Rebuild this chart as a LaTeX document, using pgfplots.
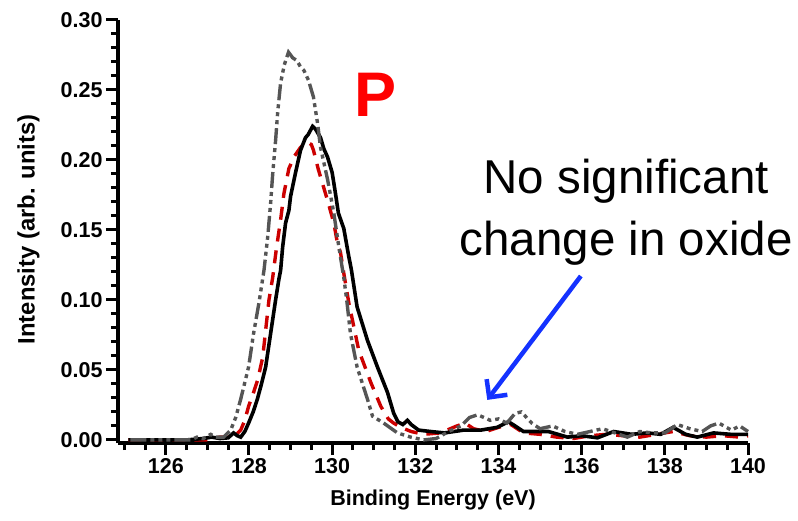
\documentclass[border=0pt]{standalone}
\usepackage{fontspec}
\setmainfont{Liberation Sans}
\usepackage{pgfplots}
\pgfplotsset{compat=1.18}
\usetikzlibrary{arrows.meta}
\definecolor{dgrey}{RGB}{85,85,85}
\definecolor{dred}{RGB}{204,0,0}
\definecolor{ablue}{RGB}{20,50,255}
\begin{document}
\begin{tikzpicture}
\begin{axis}[
  scale only axis, width=630pt, height=423pt,
  xmin=124.85, xmax=140, ymin=-0.0022, ymax=0.30,
  axis x line*=bottom, axis y line*=left,
  axis line style={line width=3.5pt},
  tick align=outside,
  xtick={126,128,130,132,134,136,138,140},
  minor xtick={125,125.5,126.5,127,127.5,128.5,129,129.5,130.5,131,131.5,132.5,133,133.5,134.5,135,135.5,136.5,137,137.5,138.5,139,139.5},
  ytick={0,0.05,0.10,0.15,0.20,0.25,0.30},
  minor ytick={0.01,0.02,0.03,0.04,0.06,0.07,0.08,0.09,0.11,0.12,0.13,0.14,0.16,0.17,0.18,0.19,0.21,0.22,0.23,0.24,0.26,0.27,0.28,0.29},
  major tick length=12pt, minor tick length=7pt,
  every tick/.style={line width=3pt, black},
  ticklabel style={font=\fontsize{21.5}{25}\selectfont\bfseries},
  /pgf/number format/assume math mode=true,
  yticklabel style={/pgf/number format/.cd, fixed, fixed zerofill, precision=2},
  xticklabel style={/pgf/number format/.cd, fixed},
  xlabel={Binding Energy (eV)},
  ylabel={Intensity (arb. units)},
  xlabel style={font=\fontsize{21.5}{25}\selectfont\bfseries, at={(axis description cs:0.5,-0.1466)}, anchor=base},
  ylabel style={font=\fontsize{23.8}{27}\selectfont\bfseries, at={(axis description cs:-0.1420,0.505)}, anchor=center},
  clip=false,
]
\coordinate (sw) at (rel axis cs:0,0);
\addplot[dred, line width=3.4pt, dash pattern=on 13pt off 9pt] coordinates {
(125.1,0) (127.0,0.000) (127.3,0.002) (127.56,0.002) (127.7,0.004) (127.8,0.007)
(127.9,0.014) (127.99,0.024) (128.1,0.033) (128.21,0.043) (128.33,0.059) (128.48,0.100)
(128.57,0.116) (128.66,0.137) (128.76,0.157) (128.84,0.176) (128.96,0.194) (129.1,0.203)
(129.24,0.209) (129.4,0.213) (129.5,0.211) (129.55,0.207) (129.67,0.193) (129.78,0.182)
(129.89,0.171) (130.04,0.155) (130.13,0.140) (130.2,0.134) (130.28,0.119) (130.4,0.098)
(130.64,0.064) (130.93,0.041) (131.17,0.024) (131.35,0.015) (131.48,0.012) (131.65,0.009)
(131.9,0.006) (132.2,0.004) (132.6,0.005) (133.0,0.010) (133.2,0.012) (133.4,0.008)
(133.7,0.006) (134.0,0.009) (134.3,0.011) (134.6,0.005) (135.0,0.004) (135.4,0.002)
(135.8,0.001) (136.2,0.003) (136.6,0.004) (137.0,0.003) (137.4,0.002) (137.8,0.004)
(138.2,0.006) (138.6,0.003) (139.0,0.002) (139.4,0.003) (139.8,0.002) (140.0,0.003)
};
\addplot[black, line width=3.6pt] coordinates {
(125.1,0) (126.5,0.000) (126.9,0.001) (127.1,0.002) (127.3,0.001) (127.5,0.0015)
(127.63,0.005) (127.72,0.003) (127.8,0.002) (127.9,0.006) (127.99,0.012) (128.1,0.020)
(128.2,0.029) (128.3,0.040) (128.4,0.052) (128.52,0.076) (128.64,0.100) (128.72,0.115)
(128.76,0.121) (128.81,0.138) (128.88,0.155) (128.96,0.164) (129.0,0.174) (129.12,0.191)
(129.24,0.207) (129.36,0.216) (129.42,0.218) (129.53,0.224) (129.6,0.222) (129.72,0.216)
(129.8,0.208) (129.89,0.202) (130.0,0.191) (130.08,0.176) (130.15,0.162) (130.28,0.151)
(130.4,0.131) (130.46,0.122) (130.6,0.095) (130.85,0.071) (131.09,0.052) (131.33,0.034)
(131.48,0.019) (131.58,0.013) (131.7,0.011) (131.81,0.014) (131.9,0.011) (132.08,0.007)
(132.37,0.006) (132.7,0.005) (133.16,0.007) (133.57,0.007) (133.97,0.009) (134.24,0.013)
(134.4,0.010) (134.6,0.006) (135.2,0.006) (135.66,0.002) (136.0,0.003) (136.38,0.0015)
(136.77,0.006) (137.2,0.004) (137.58,0.005) (137.9,0.004) (138.2,0.009) (138.5,0.004)
(138.78,0.002) (139.17,0.005) (139.58,0.004) (140.0,0.004)
};
\addplot[dgrey, line width=3.4pt, dash pattern=on 16pt off 4pt on 4pt off 4pt on 4pt off 4pt on 4pt off 4pt] coordinates {
(125.15,0) (126.6,0) (126.75,0.002) (126.9,0.001) (127.08,0.004) (127.2,0.002)
(127.39,0.002) (127.56,0.007) (127.68,0.016) (127.80,0.029) (127.99,0.052) (128.11,0.076)
(128.24,0.098) (128.36,0.121) (128.45,0.145) (128.52,0.169) (128.57,0.19) (128.64,0.214)
(128.69,0.234) (128.76,0.255) (128.85,0.268) (128.95,0.277) (129.05,0.273) (129.15,0.271)
(129.25,0.266) (129.32,0.264) (129.43,0.257) (129.55,0.245) (129.65,0.226) (129.72,0.209)
(129.89,0.186) (130.04,0.162) (130.16,0.138) (130.28,0.116) (130.35,0.100) (130.44,0.076)
(130.6,0.052) (130.85,0.029) (130.97,0.017) (131.24,0.012) (131.57,0.005) (131.89,0.002)
(132.2,0.000) (132.5,0.001) (132.8,0.006) (133.1,0.010) (133.3,0.016) (133.5,0.018)
(133.8,0.014) (134.0,0.015) (134.2,0.012) (134.4,0.019) (134.55,0.020) (134.8,0.012)
(135.0,0.008) (135.3,0.010) (135.6,0.006) (135.9,0.004) (136.2,0.006) (136.5,0.008)
(136.8,0.005) (137.1,0.002) (137.4,0.006) (137.7,0.005) (138.0,0.005) (138.3,0.011)
(138.6,0.008) (138.9,0.006) (139.1,0.010) (139.3,0.012) (139.6,0.007) (139.8,0.010)
(140.0,0.006)
};
\node[text=red, font=\fontsize{63}{70}\selectfont\bfseries, anchor=center] at (axis cs:131.04,0.2464) {P};
\node[font=\fontsize{47.5}{55}\selectfont, anchor=base] at (axis cs:137.07,0.1764) {No significant};
\node[font=\fontsize{47.5}{55}\selectfont, anchor=base] at (axis cs:137.07,0.1321) {change in oxide};
\draw[ablue, line width=4.5pt, -{Straight Barb[length=13pt,width=26pt]}] (axis cs:135.98,0.1171) -- (axis cs:133.73,0.0286);
\end{axis}
\pgfresetboundingbox
\path[use as bounding box] (sw) ++(-118pt,-77pt) rectangle ++(798pt,520pt);
\end{tikzpicture}
\end{document}
